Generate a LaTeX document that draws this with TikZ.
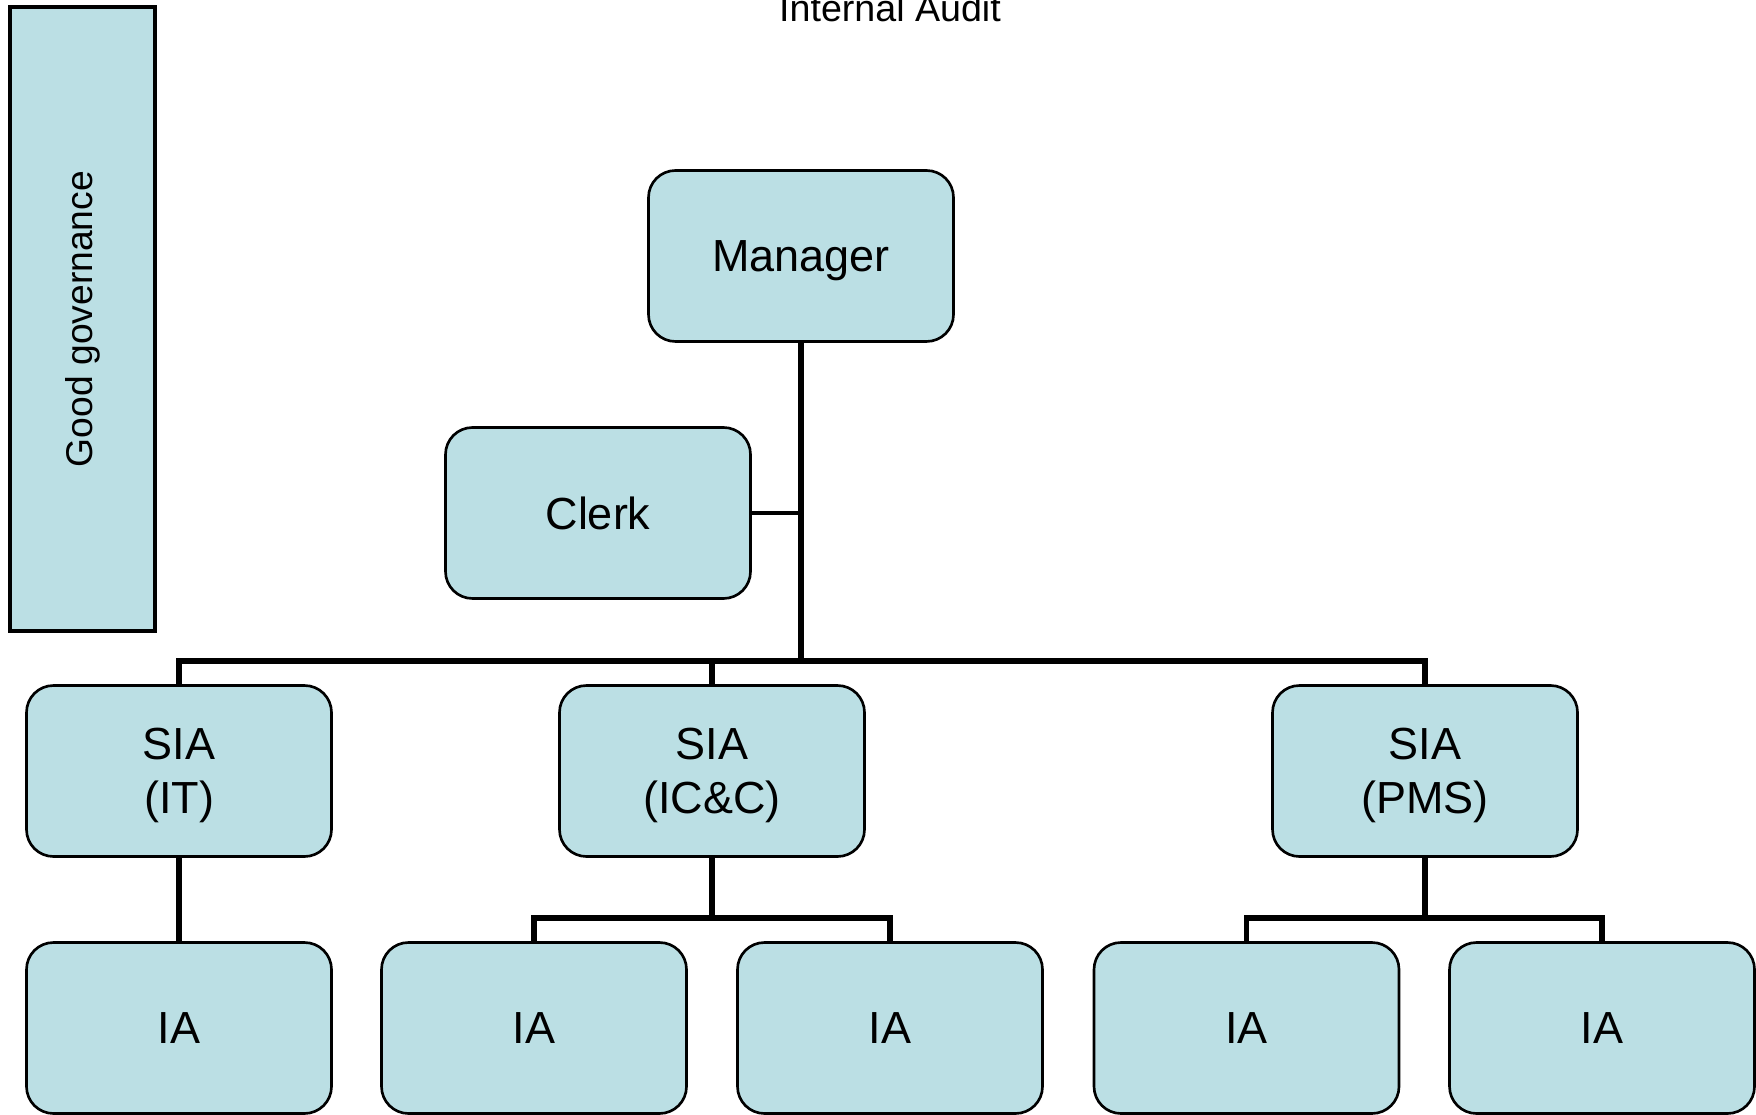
\documentclass[tikz,border=0pt]{standalone}
\usepackage{fontspec}
\setmainfont{Liberation Sans}
\usepackage{tikz}
\usetikzlibrary{positioning,calc}
\usepackage{xcolor}
\definecolor{boxblue}{RGB}{187,223,228}

\tikzset{
    unitbox/.style={draw=black,line width=0.75pt,fill=boxblue,rounded corners=0.27cm,minimum width=3.05cm,minimum height=1.71cm,text depth=0pt,align=center,font=\fontsize{12.8}{15.4}\selectfont},
    govbox/.style={draw=black,line width=0.9pt,fill=boxblue,minimum width=6.24cm,minimum height=1.45cm,rotate=90,font=\fontsize{10.6}{12.7}\selectfont},
    link/.style={draw=black,line width=1.6pt}
}

\begin{document}
\begin{tikzpicture}
        \useasboundingbox (0,0) rectangle (17.56,11.14);
        \node[anchor=base,font=\fontsize{10.7}{12.8}\selectfont] (title) at (8.90,10.92) {Internal Audit};
        \node[govbox] (gov) at (0.825,7.95) {Good governance};
        
        \node[unitbox] (mgr) at (8.01,8.58) {Manager};
        \node[unitbox] (clerk) at (5.98,6.01) {Clerk};
        
        \node[unitbox] (siait) at (1.79,3.43) {SIA\\(IT)};
        \node[unitbox] (siaicc) at (7.12,3.43) {SIA\\(IC\&C)};
        \node[unitbox] (siapms) at (14.25,3.43) {SIA\\(PMS)};
        
        \node[unitbox] (iaa) at (1.79,0.86) {IA};
        \node[unitbox] (iab) at (5.34,0.86) {IA};
        \node[unitbox] (iac) at (8.90,0.86) {IA};
        \node[unitbox] (iad) at (12.465,0.86) {IA};
        \node[unitbox] (iae) at (16.02,0.86) {IA};
        
        \coordinate (bus) at (8.01,4.53);
        \coordinate (busicc) at (7.12,1.96);
        \coordinate (buspms) at (14.25,1.96);
        
        \draw[link] (mgr.south) -- (bus);
        \draw[link,line width=1.4pt] (clerk.east) -- (clerk.east -| mgr.south);
        \draw[link] (siait.north) |- (bus) -| (siapms.north);
        \draw[link] (siaicc.north) -- (siaicc.north |- bus);
        
        \draw[link] (siait.south) -- (iaa.north);
        \draw[link] (siaicc.south) -- (busicc);
        \draw[link] (iab.north) |- (busicc) -| (iac.north);
        \draw[link] (siapms.south) -- (buspms);
        \draw[link] (iad.north) |- (buspms) -| (iae.north);
    \end{tikzpicture}
\end{document}
